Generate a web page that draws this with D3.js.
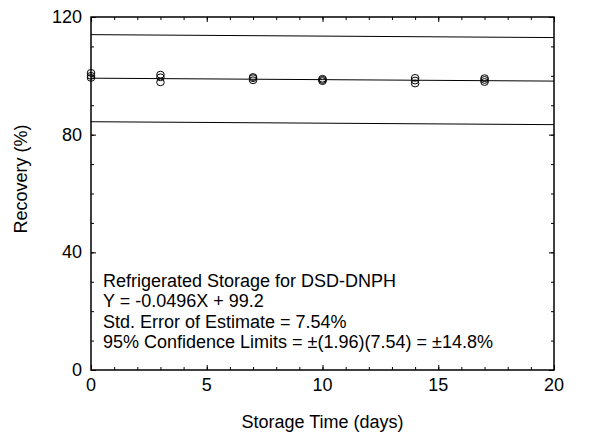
<!DOCTYPE html>
<html>
<head>
<meta charset="utf-8">
<script src="https://cdn.jsdelivr.net/npm/d3@7"></script>
<style>
  body { margin: 0; background: #fff; }
  svg text { font-family: "Liberation Sans", Arial, sans-serif; fill: #000; }
</style>
</head>
<body>
<svg id="chart" width="592" height="433"></svg>
<script>
// Storage days and recovery (%) of each replicate
const days = [0, 0, 0, 3, 3, 3, 7, 7, 7, 10, 10, 10, 14, 14, 14, 17, 17, 17];
const recovery = [101.0, 100.0, 99.3, 100.4, 99.5, 97.8, 99.6, 99.2, 98.5, 99.0, 98.6, 98.2, 99.3, 98.4, 97.4, 99.2, 98.6, 97.9];

// Regression fit and 95% limits
const slope = -0.0496;
const intercept = 99.2;
const limit = 14.8;
const fitOffsets = [limit, 0, -limit];

const xTicks = [0, 5, 10, 15, 20];
const yTicks = [0, 40, 80, 120];

const noteLines = [
  "Refrigerated Storage for DSD-DNPH",
  "Y = -0.0496X + 99.2",
  "Std. Error of Estimate = 7.54%",
  "95% Confidence Limits = \u00B1(1.96)(7.54) = \u00B114.8%"
];

const svg = d3.select("#chart");
const m = { left: 91, right: 554, top: 17, bottom: 370 };
const fs = 18;

const x = d3.scaleLinear().domain([0, 20]).range([m.left, m.right]);
const y = d3.scaleLinear().domain([0, 120]).range([m.bottom, m.top]);

// tick marks pointing inward on all four sides
function ticks(axisFn, scale, vals, size, transform) {
  svg.append("g").attr("transform", transform)
    .call(axisFn(scale).tickValues(vals).tickSize(size).tickFormat(""))
    .call(g => g.select(".domain").remove())
    .call(g => g.selectAll("line").attr("stroke", "#000").attr("stroke-width", 1));
}
const xMinor = d3.range(0, 21, 1);
const yMinor = d3.range(0, 121, 10);
ticks(d3.axisTop, x, xMinor, 3, `translate(0,${m.bottom})`);
ticks(d3.axisTop, x, xTicks, 5, `translate(0,${m.bottom})`);
ticks(d3.axisBottom, x, xMinor, 3, `translate(0,${m.top})`);
ticks(d3.axisBottom, x, xTicks, 5, `translate(0,${m.top})`);
ticks(d3.axisRight, y, yMinor, 3, `translate(${m.left},0)`);
ticks(d3.axisRight, y, yTicks, 5, `translate(${m.left},0)`);
ticks(d3.axisLeft, y, yMinor, 3, `translate(${m.right},0)`);
ticks(d3.axisLeft, y, yTicks, 5, `translate(${m.right},0)`);

// frame
svg.append("rect")
  .attr("x", m.left).attr("y", m.top)
  .attr("width", m.right - m.left).attr("height", m.bottom - m.top)
  .attr("fill", "none").attr("stroke", "#000").attr("stroke-width", 1.5);

// tick labels
svg.append("g").selectAll("text").data(xTicks).join("text")
  .attr("x", d => x(d)).attr("y", m.bottom + 21)
  .attr("text-anchor", "middle").attr("font-size", fs).text(d => d);
svg.append("g").selectAll("text").data(yTicks).join("text")
  .attr("x", m.left - 9).attr("y", d => y(d) + 6)
  .attr("text-anchor", "end").attr("font-size", fs).text(d => d);

// axis titles
svg.append("text").attr("x", (m.left + m.right) / 2).attr("y", 428)
  .attr("text-anchor", "middle").attr("font-size", fs).text("Storage Time (days)");
svg.append("text").attr("transform", "translate(27,179) rotate(-90)")
  .attr("text-anchor", "middle").attr("font-size", fs).text("Recovery (%)");

// fit line and confidence limits
const line = d3.line().x(d => x(d[0])).y(d => y(d[1]));
svg.append("g").selectAll("path").data(fitOffsets).join("path")
  .attr("d", off => line([0, 20].map(t => [t, intercept + slope * t + off])))
  .attr("fill", "none").attr("stroke", "#000").attr("stroke-width", 1);

// replicate points
svg.append("g").selectAll("ellipse").data(days.map((d, i) => [d, recovery[i]])).join("ellipse")
  .attr("cx", d => x(d[0])).attr("cy", d => y(d[1])).attr("rx", 3.8).attr("ry", 3.4)
  .attr("fill", "none").attr("stroke", "#000").attr("stroke-width", 1);

// annotation
svg.append("g").selectAll("text").data(noteLines).join("text")
  .attr("x", 103).attr("y", (d, i) => 287 + i * 20.3)
  .attr("font-size", fs).text(d => d);
</script>
</body>
</html>
